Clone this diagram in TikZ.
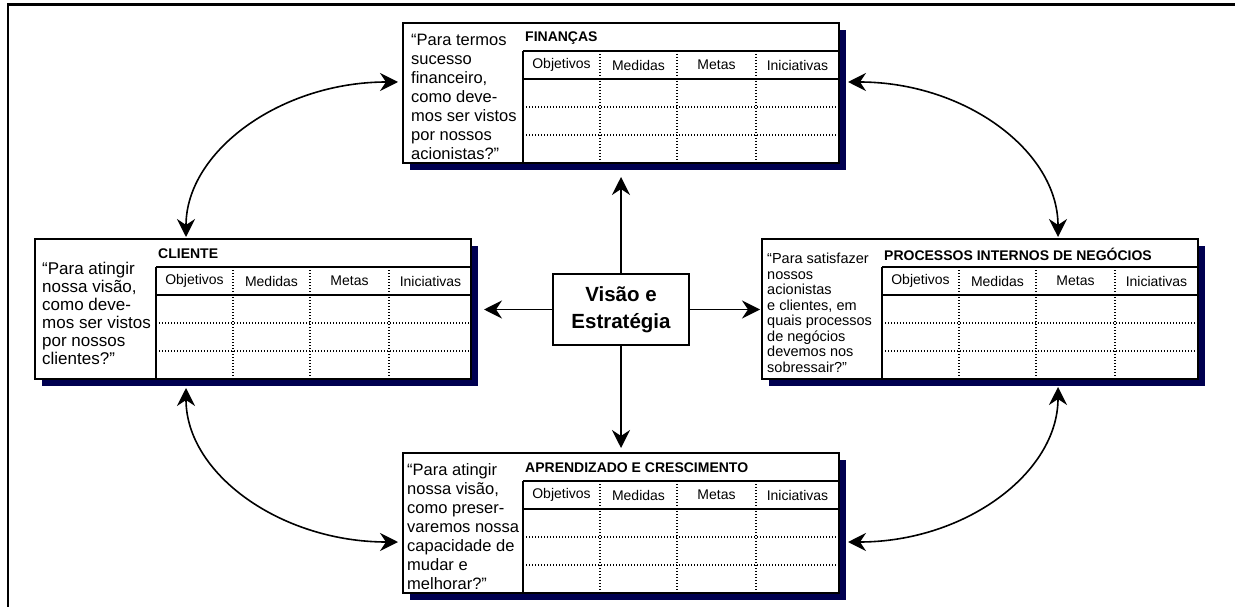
\documentclass[tikz,border=0pt]{standalone}
\usepackage{fontspec}
\setmainfont{Liberation Sans}
\usetikzlibrary{arrows.meta,calc}
\definecolor{shadownavy}{RGB}{0,0,80}
\tikzset{
  bscbox/.style={draw, line width=1.7pt, fill=white, minimum width=436pt, minimum height=140pt, inner sep=0pt, outer sep=0pt},
  solidln/.style={line width=1.4pt},
  dotln/.style={line width=1.3pt, dash pattern=on 1.3pt off 1.7pt},
  colhead/.style={font=\fontsize{14}{16}\selectfont, inner sep=0pt},
  boxtitle/.style={font=\bfseries\fontsize{14}{16}\selectfont, anchor=west, inner sep=0pt},
  quest/.style={anchor=west, align=left, inner sep=0pt},
  centerbox/.style={draw, line width=1.7pt, fill=white, minimum width=136pt, minimum height=71pt, inner sep=0pt, align=center, font=\bfseries\fontsize{20.5}{27}\selectfont},
  arr/.style={line width=1.6pt, -{Stealth[length=18pt,width=18pt,inset=6pt]}},
  darr/.style={line width=1.6pt, {Stealth[length=18pt,width=18pt,inset=6pt]}-{Stealth[length=18pt,width=18pt,inset=6pt]}}
}
\newcommand\bscpanel[8]{%
  \begin{scope}[shift={(#2,#3)}]
    \fill[shadownavy] (7,7) rectangle (443,147);
    \node[bscbox, anchor=north west] (#1) at (0,0) {};
    \draw[solidln] (#4,28) -- (436,28) (#4,56) -- (436,56) (#4,28) -- (#4,140);
    \draw[dotln] (#4+77,28) -- (#4+77,140) (#4+154,28) -- (#4+154,140) (#4+233,28) -- (#4+233,140)
                 (#4,84) -- (436,84) (#4,112) -- (436,112);
    \node[boxtitle] (#1-title) at (#4+2,15) {#5};
    \node[colhead] (#1-c1) at (#4+38.5,42) {Objetivos};
    \node[colhead] (#1-c2) at (#4+115.5,42) {Medidas};
    \node[colhead] (#1-c3) at (#4+193.5,42) {Metas};
    \node[colhead] (#1-c4) at (#4+274.5,42) {Iniciativas};
    \node[quest, font=#7] (#1-q) at (#6,74) {#8};
  \end{scope}}
\begin{document}
\begin{tikzpicture}[x=1pt,y=-1pt]
  \useasboundingbox (0,0) rectangle (1235,607);
  \draw[line width=2.3pt] (7.8,607) -- (7.8,4.5) -- (1235,4.5);

  \bscpanel{fin}{403}{23}{120}{FINANÇAS}{8}{\fontsize{16.5}{19}\selectfont}%
    {“Para termos\\sucesso\\financeiro,\\como deve-\\mos ser vistos\\por nossos\\acionistas?”}
  \bscpanel{cli}{35}{239}{121}{CLIENTE}{7}{\fontsize{17}{18}\selectfont}%
    {“Para atingir\\nossa visão,\\como deve-\\mos ser vistos\\por nossos\\clientes?”}
  \bscpanel{proc}{762}{239}{120}{PROCESSOS INTERNOS DE NEGÓCIOS}{5}{\fontsize{14.5}{15.5}\selectfont}%
    {“Para satisfazer\\nossos\\acionistas\\e clientes, em\\quais processos\\de negócios\\devemos nos\\sobressair?”}
  \bscpanel{learn}{403}{453}{120}{APRENDIZADO E CRESCIMENTO}{4}{\fontsize{16.5}{19}\selectfont}%
    {“Para atingir\\nossa visão,\\como preser-\\varemos nossa\\capacidade de\\mudar e\\melhorar?”}

  \node[centerbox] (vis) at (621,309.5) {Visão e\\Estratégia};

  \draw[arr, shorten >=14pt] (vis.north) -- (fin.south);
  \draw[arr, shorten >=13pt] (vis.west) -- (vis.west -| cli.east);
  \draw[arr, shorten >=2pt] (vis.east) -- (vis.east -| proc.west);
  \draw[arr, shorten >=5pt] (vis.south) -- (learn.north);

  \draw[darr] ($(fin.north west)+(-5,59)$) .. controls +(-117,0) and +(0,-86) .. ($(cli.north west)+(151,-2)$);
  \draw[darr] ($(fin.north east)+(9,59)$) .. controls +(117,0) and +(0,-86) .. ($(proc.north west)+(296,-2)$);
  \draw[darr] ($(cli.south west)+(151,9)$) .. controls +(0,86) and +(-117,0) .. ($(learn.south west)+(-5,-51)$);
  \draw[darr] ($(proc.south west)+(296,8)$) .. controls +(0,86) and +(117,0) .. ($(learn.south east)+(9,-51)$);
\end{tikzpicture}
\end{document}
